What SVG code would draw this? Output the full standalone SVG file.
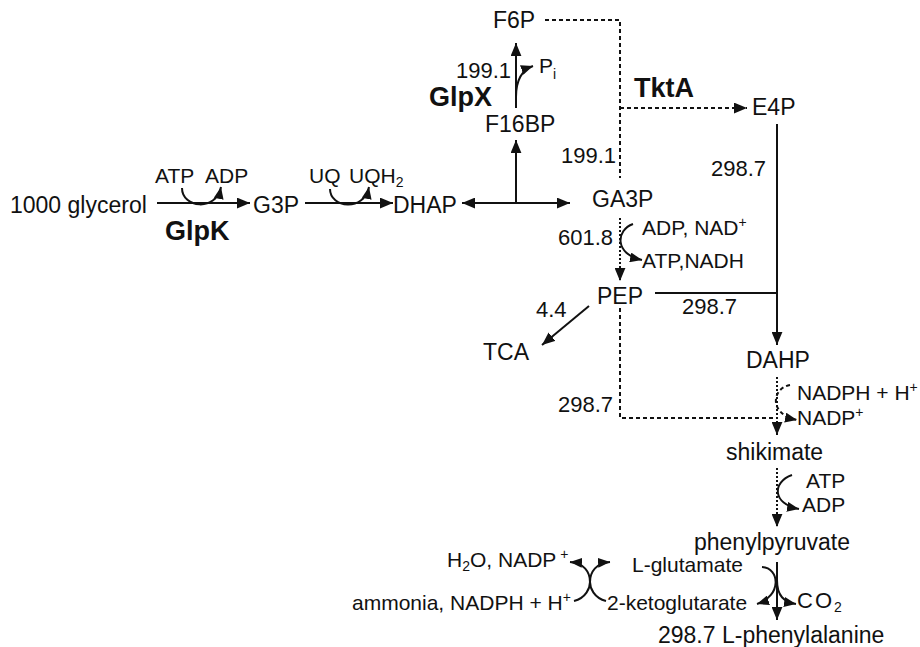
<svg xmlns="http://www.w3.org/2000/svg" width="920" height="647" viewBox="0 0 920 647">
<defs>
<style>
text{font-family:"Liberation Sans",Arial,sans-serif;fill:#111;}
.m{font-size:23px;}
.c{font-size:21px;}
.n{font-size:22px;}
.b{font-size:27px;font-weight:bold;}
.sup{font-size:14px;}
.ln{fill:none;stroke:#111;stroke-width:2;}
.da{stroke-dasharray:4 3;}
.dt{stroke-dasharray:2 2;}
</style>
<marker id="ah" viewBox="0 0 12 10" refX="12" refY="5" markerWidth="13" markerHeight="11" markerUnits="userSpaceOnUse" orient="auto-start-reverse"><path d="M0,0 L12,5 L0,10 z" fill="#111"/></marker>
<marker id="as" viewBox="0 0 12 10" refX="12" refY="5" markerWidth="12" markerHeight="10" markerUnits="userSpaceOnUse" orient="auto-start-reverse"><path d="M0,0 L12,5 L0,10 z" fill="#111"/></marker>
</defs>
<rect width="920" height="647" fill="#fff"/>
<g id="connectors">
<path class="ln" d="M157,203 H250" marker-end="url(#ah)"/>
<path class="ln" d="M182,188 C182,208 216,212 221,187" marker-end="url(#as)"/>
<path class="ln" d="M305,203 H393" marker-end="url(#ah)"/>
<path class="ln" d="M330,189 C330,208 364,212 369,187" marker-end="url(#as)"/>
<path class="ln" d="M462,203 H570" marker-start="url(#ah)" marker-end="url(#ah)"/>
<path class="ln" d="M516,203 V140" marker-end="url(#ah)"/>
<path class="ln" d="M516,108 V43" marker-end="url(#ah)"/>
<path class="ln" d="M516,97 Q516,72 533,66" marker-end="url(#as)"/>
<path class="ln da" d="M545,20 H620 V178"/>
<path class="ln da" d="M620,108 H747" marker-end="url(#ah)"/>
<path class="ln" d="M777,124 V345" marker-end="url(#ah)"/>
<path class="ln" d="M655,293 H777"/>
<path class="ln dt" d="M620,218 V281" marker-end="url(#ah)"/>
<path class="ln" d="M633,224 C616,230 614,254 642,260" marker-end="url(#as)"/>
<path class="ln" d="M589,306 L542,345" marker-end="url(#ah)"/>
<path class="ln da" d="M620,308 V418 H777"/>
<path class="ln dt" d="M777,377 V435" marker-end="url(#ah)"/>
<path class="ln da" d="M790,385 C772,388 768,414 797,420" marker-end="url(#as)"/>
<path class="ln dt" d="M777,468 V527" marker-end="url(#ah)"/>
<path class="ln" d="M792,475 C772,482 772,504 799,509" marker-end="url(#as)"/>
<path class="ln" d="M777,562 V620" marker-end="url(#ah)"/>
<path class="ln" d="M762,567 C780,568 782,596 757,604" marker-end="url(#as)"/>
<path class="ln" d="M777,580 C777,596 784,602 796,604" marker-end="url(#as)"/>
<path class="ln" d="M574,601 C586,598 590,588 590,582 C590,572 584,563 570,562" marker-end="url(#as)"/>
<path class="ln" d="M606,601 C594,598 590,588 590,582 C590,572 596,563 610,562" marker-end="url(#as)"/>
</g>
<g id="glycerol"><text class="m" x="10" y="213">1000 glycerol</text></g>
<g id="glpk"><text class="b" x="165" y="240">GlpK</text></g>
<g id="atp-adp-1"><text class="c" x="155" y="183">ATP</text><text class="c" x="205" y="183">ADP</text></g>
<g id="g3p"><text class="m" x="253" y="213">G3P</text></g>
<g id="uq"><text class="c" x="309" y="183">UQ</text><text class="c" x="349" y="183">UQH<tspan class="sup" dy="4">2</tspan></text></g>
<g id="dhap"><text class="m" x="393" y="213">DHAP</text></g>
<g id="ga3p"><text class="m" x="592" y="207">GA3P</text></g>
<g id="f16bp"><text class="m" x="485" y="132">F16BP</text></g>
<g id="f6p"><text class="m" x="493" y="28">F6P</text></g>
<g id="glpx-flux"><text class="n" x="456" y="78">199.1</text></g>
<g id="pi"><text class="c" x="539" y="73">P<tspan class="sup" dy="6">i</tspan></text></g>
<g id="glpx"><text class="b" x="429" y="106">GlpX</text></g>
<g id="tkta"><text class="b" x="634" y="97">TktA</text></g>
<g id="e4p"><text class="m" x="752" y="115">E4P</text></g>
<g id="flux-tkta"><text class="n" x="561" y="163">199.1</text></g>
<g id="flux-e4p"><text class="n" x="711" y="176">298.7</text></g>
<g id="flux-ga3p"><text class="n" x="558" y="245">601.8</text></g>
<g id="cof-ga3p"><text class="c" x="642" y="235">ADP, NAD<tspan class="sup" dy="-8">+</tspan></text><text class="c" x="642" y="268">ATP,NADH</text></g>
<g id="pep"><text class="m" x="597" y="304">PEP</text></g>
<g id="flux-pep"><text class="n" x="682" y="314">298.7</text></g>
<g id="flux-tca"><text class="n" x="536" y="317">4.4</text></g>
<g id="tca"><text class="m" x="483" y="360">TCA</text></g>
<g id="dahp"><text class="m" x="746" y="368">DAHP</text></g>
<g id="flux-pep2"><text class="n" x="558" y="412">298.7</text></g>
<g id="cof-dahp"><text class="c" x="797" y="400">NADPH + H<tspan class="sup" dy="-8">+</tspan></text><text class="c" x="797" y="425">NADP<tspan class="sup" dy="-8">+</tspan></text></g>
<g id="shikimate"><text class="m" x="726" y="460">shikimate</text></g>
<g id="cof-shik"><text class="c" x="806" y="488">ATP</text><text class="c" x="802" y="512">ADP</text></g>
<g id="phenylpyruvate"><text class="m" x="694" y="550">phenylpyruvate</text></g>
<g id="glutamate"><text class="c" x="632" y="572">L-glutamate</text></g>
<g id="ketoglutarate"><text class="c" x="607" y="610">2-ketoglutarate</text></g>
<g id="co2"><text class="n" x="797" y="608" letter-spacing="2">CO<tspan class="sup" dy="4" letter-spacing="0">2</tspan></text></g>
<g id="phenylalanine"><text class="m" x="658" y="643">298.7 L-phenylalanine</text></g>
<g id="h2o"><text class="c" x="447" y="567">H<tspan class="sup" dy="4">2</tspan><tspan dy="-4">O, NADP</tspan><tspan class="sup" dy="-8"> +</tspan></text></g>
<g id="ammonia"><text class="c" x="352" y="610">ammonia, NADPH + H<tspan class="sup" dy="-8">+</tspan></text></g>
</svg>
